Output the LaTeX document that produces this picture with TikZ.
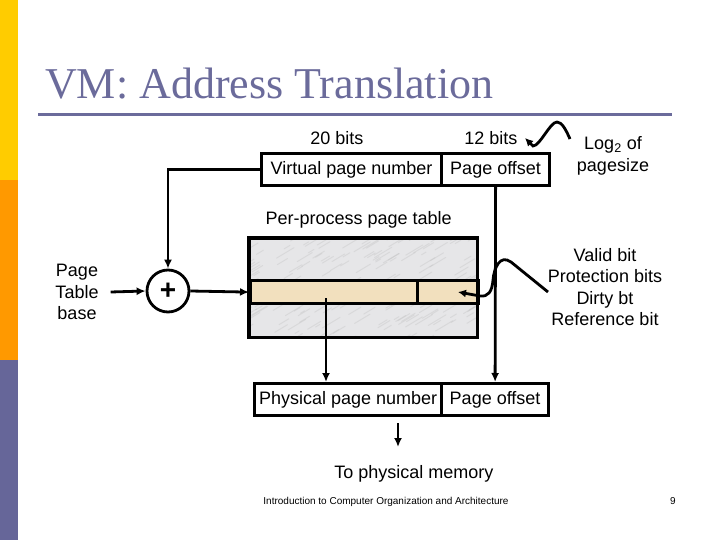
\documentclass[tikz,border=0pt]{standalone}
\usepackage{fontspec}
\setmainfont{Liberation Sans}
\newfontfamily\titlefont{Liberation Serif}
\usetikzlibrary{positioning,arrows.meta}
\definecolor{barpurple}{HTML}{666699}
\definecolor{baryellow}{HTML}{FFCC00}
\definecolor{barorange}{HTML}{FF9900}
\definecolor{titlegray}{HTML}{6B6B9B}
\definecolor{marble}{HTML}{E6E6E8}
\definecolor{entrytan}{HTML}{F2E0BE}

\begin{document}
\begin{tikzpicture}[x=1pt, y=-1pt, line join=miter,
field/.style ={draw, line width=3.2pt, minimum height=32pt, inner sep=0pt, anchor=north west, font=\fontsize{18}{20}\selectfont},
lbl/.style ={font=\fontsize{18}{21.5}\selectfont, align=center},
arr/.style ={-{Latex[length=9pt,width=8pt]}, line width=2.8pt},
squig/.style ={-{Latex[length=8pt,width=8pt]}, line width=2.8pt}]
\useasboundingbox (0,0) rectangle (720,540);
\fill[baryellow] (0,0) rectangle (18,180);
\fill[barorange] (0,180) rectangle (18,360);
\fill[barpurple] (0,360) rectangle (18,540);
\node[anchor=base west, inner sep=0, text=titlegray, font=\titlefont\fontsize{44}{48}\selectfont] (title) at (45,99) {VM: Address Translation};
\draw[titlegray, line width=3pt] (38,115) -- (672,115);

% virtual address
\node[lbl, anchor=base] (bits20) at (337,145) {20 bits};
\node[lbl, anchor=base] (bits12) at (491,145) {12 bits};
\node[field, minimum width=180pt] (vpn) at (260,152) {Virtual page number};
\node[field, minimum width=108pt] (voff) at (440,152) {Page offset};
\node[lbl] (logsize) at (613,156) {Log\textsubscript{2} of\\pagesize};

% page table
\node[lbl, anchor=base west] (ptlabel) at (262,225) {Per-process page table};
\node[fill=marble, minimum width=228pt, minimum height=99pt, inner sep=0, anchor=north west] (table) at (249,238) {};
\begin{scope}
\clip (table.north west) rectangle (table.south east);
\pgfmathsetseed{11}
\foreach \i in {1,...,220} {
  \pgfmathsetmacro\sx{240+245*rnd}
  \pgfmathsetmacro\sy{236+110*rnd}
  \pgfmathsetmacro\sl{4+14*rnd}
  \draw[gray!60, line width=1pt, opacity=0.25, line cap=round] (\sx,\sy) -- ++(\sl,-0.6*\sl);
}
\end{scope}
\node[draw, line width=3.2pt, fill=entrytan, minimum width=167pt, minimum height=23pt, inner sep=0, anchor=north west] (entry) at (249,279) {};
\node[draw, line width=3.2pt, fill=entrytan, minimum width=61pt, minimum height=23pt, inner sep=0, anchor=north west] (flags) at (416,279) {};
\draw[line width=3.2pt] (table.north west) rectangle (table.south east);
\node[lbl] (flaginfo) at (605,287) {Valid bit\\Protection bits\\Dirty bt\\Reference bit};

% adder
\node[circle, draw, line width=2.8pt, minimum size=42pt, inner sep=0, font=\fontsize{28}{28}\selectfont\bfseries] (adder) at (168,291) {+};
\node[lbl, inner xsep=12pt] (base) at (77,292) {Page\\Table\\base};

% physical address
\node[field, minimum width=187pt] (ppn) at (253,382) {Physical page number};
\node[field, minimum width=107pt] (poff) at (440,382) {Page offset};
\coordinate (ppnsrc) at (326,298);
\coordinate (memtop) at (398,423);
\coordinate (membot) at (398,447);
\node[lbl, anchor=base] (mem) at (414,478) {To physical memory};

\draw[arr] (vpn.west) -| (adder.north);
\draw[arr] (base.east) -- (adder.west);
\draw[arr] (adder.east) -- (entry.west);
\draw[arr] (ppnsrc) -- (ppnsrc |- ppn.north);
\draw[arr] (voff.south) -- (poff.north);
\draw[arr] (memtop) -- (membot);

\coordinate (logtip) at (525,138);
\coordinate (flagtip) at (458,292);
\draw[squig] (570,139) .. controls (566,130) and (562,122) .. (557,122) .. controls (550,122) and (540,146) .. (533,146) -- (logtip);
\draw[squig] (548,292) -- (511,262) .. controls (500,254) and (494,268) .. (493,280) .. controls (492,292) and (488,297) .. (480,296) -- (flagtip);

\node[anchor=base, font=\fontsize{10}{11}\selectfont] (footer) at (386,504) {Introduction to Computer Organization and Architecture};
\node[anchor=base, font=\fontsize{10}{11}\selectfont] (pagenum) at (673,504) {9};
\end{tikzpicture}
\end{document}
